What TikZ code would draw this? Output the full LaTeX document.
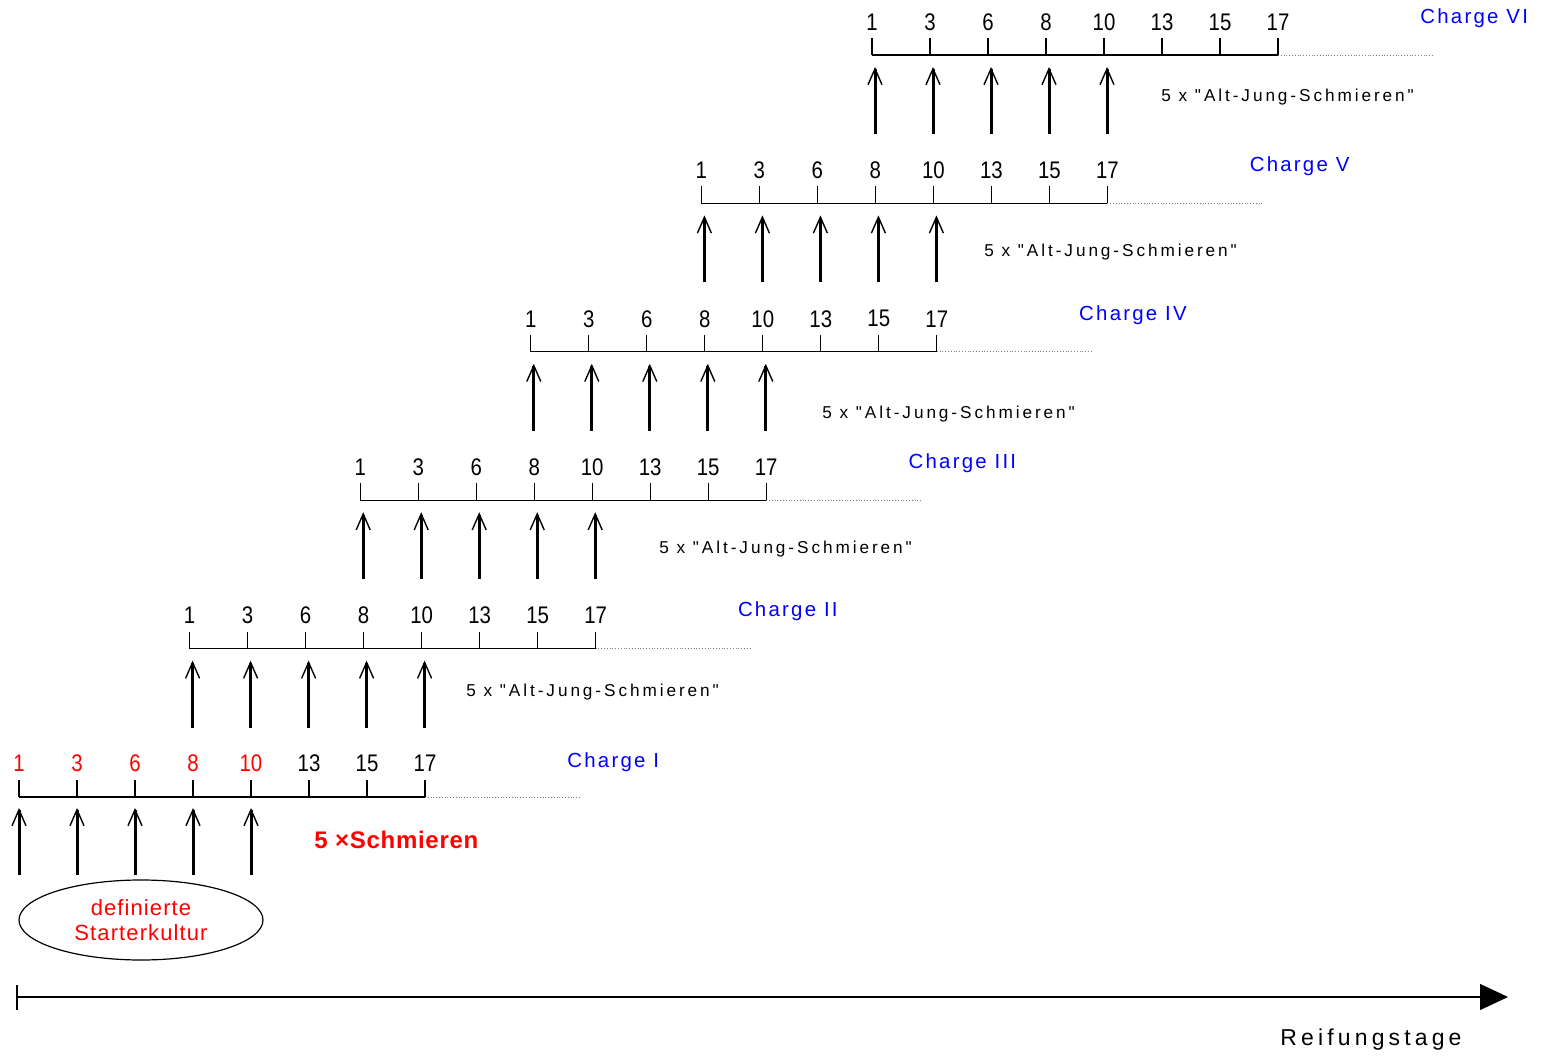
\documentclass[tikz,border=0pt]{standalone}
\usepackage{fontspec}
\setmainfont{Liberation Sans}
\newfontfamily\numfont[FakeStretch=0.85]{Liberation Sans}
\newfontfamily\chargefont[LetterSpace=11]{Liberation Sans}
\newfontfamily\smearfont[LetterSpace=17]{Liberation Sans}
\newfontfamily\axisfont[LetterSpace=18]{Liberation Sans}
\newfontfamily\startfont[LetterSpace=5]{Liberation Sans}
\newfontfamily\boldfont[LetterSpace=3]{Liberation Sans}
\usetikzlibrary{arrows.meta,shapes.geometric}

\begin{document}
\begin{tikzpicture}[
    x=0.5pt, y=-0.5pt,
    day/.style={font=\numfont\fontsize{12}{14}\selectfont, inner sep=0pt},
    smear/.style={-{Straight Barb[length=8pt,width=7pt,line width=0.7pt]}, line width=1.5pt},
    charge/.style={anchor=west, text=blue, inner sep=0pt, font=\chargefont\fontsize{10.2}{12}\selectfont},
    note/.style={anchor=west, inner sep=0pt, font=\smearfont\fontsize{8.6}{10}\selectfont}
]

    \useasboundingbox (0,0) rectangle (1542,1058);

    % Charge I
    \foreach \d [count=\k from 0] in {1,3,6,8,10,13,15,17} {
        \coordinate (T1-\k) at (19+58*\k,797);
        \draw[line width=0.6pt] (T1-\k) -- ++(0,-17);
    }
    \foreach \d [count=\k from 0] in {1,3,6,8,10}
        \node[day, text=red] (D1-\k) at (19+58*\k,763) {\d};
    \foreach \d [count=\k from 5] in {13,15,17}
        \node[day] (D1-\k) at (19+58*\k,763) {\d};
    \draw[line width=0.6pt] (T1-0) -- (T1-7);
    \draw[densely dotted, gray, line width=0.4pt] (T1-7) -- ++(155,0);
    \node[charge] (C1) at (567,762) {Charge I};

    \foreach \k in {0,...,4} {
        \coordinate (A1-\k) at (19+58*\k,875);
        \coordinate (H1-\k) at (19+58*\k,808);
        \draw[smear] (A1-\k) -- (H1-\k);
    }
    \node[anchor=west, inner sep=0pt, text=red, font=\boldfont\bfseries\fontsize{12}{14}\selectfont] (S1) at (314,840) {5 ×Schmieren};

    \node[ellipse, draw, line width=0.6pt, minimum width=122pt, minimum height=40pt, align=center,
          text=red, font=\startfont\fontsize{11}{12.5}\selectfont] (start) at (141,920) {definierte\\Starterkultur};

    % Charges II to VI
    \foreach \c/\r/\tx/\ty [evaluate=\c as \xo using 19+(\c-1)*170.6,
                            evaluate=\c as \yo using 797-(\c-1)*148.4] in
        {2/II/466/692, 3/III/659/549, 4/IV/822/414, 5/V/984/252, 6/VI/1161/97} {

        \foreach \d [count=\k from 0] in {1,3,6,8,10,13,15,17} {
            \coordinate (T\c-\k) at (\xo+58*\k,\yo);
            \draw[line width=0.6pt] (T\c-\k) -- ++(0,-17);
            \node[day] (D\c-\k) at (\xo+58*\k,\yo-33) {\d};
        }
        \draw[line width=0.6pt] (T\c-0) -- (T\c-7);
        \draw[densely dotted, gray, line width=0.4pt] (T\c-7) -- ++(155,0);
        \node[charge] (C\c) at (\xo+548,\yo-37) {Charge \r};

        \foreach \k in {0,...,4} {
            \coordinate (A\c-\k) at (\xo+58*\k+3,\yo+79);
            \coordinate (H\c-\k) at (\xo+58*\k+3,\yo+12);
            \draw[smear] (A\c-\k) -- (H\c-\k);
        }
        \node[note] (N\c) at (\tx,\ty) {5 x "Alt-Jung-Schmieren"};
    }

    % Reifungstage
    \coordinate (R0) at (17,997);
    \coordinate (R1) at (1508,997);
    \draw[line width=0.6pt] (17,985) -- (17,1010);
    \draw[line width=0.6pt, -{Triangle[length=14pt,width=13pt]}] (R0) -- (R1);
    \node[font=\axisfont\fontsize{11.5}{13}\selectfont] (axis) at (1371,1040) {Reifungstage};

\end{tikzpicture}
\end{document}
